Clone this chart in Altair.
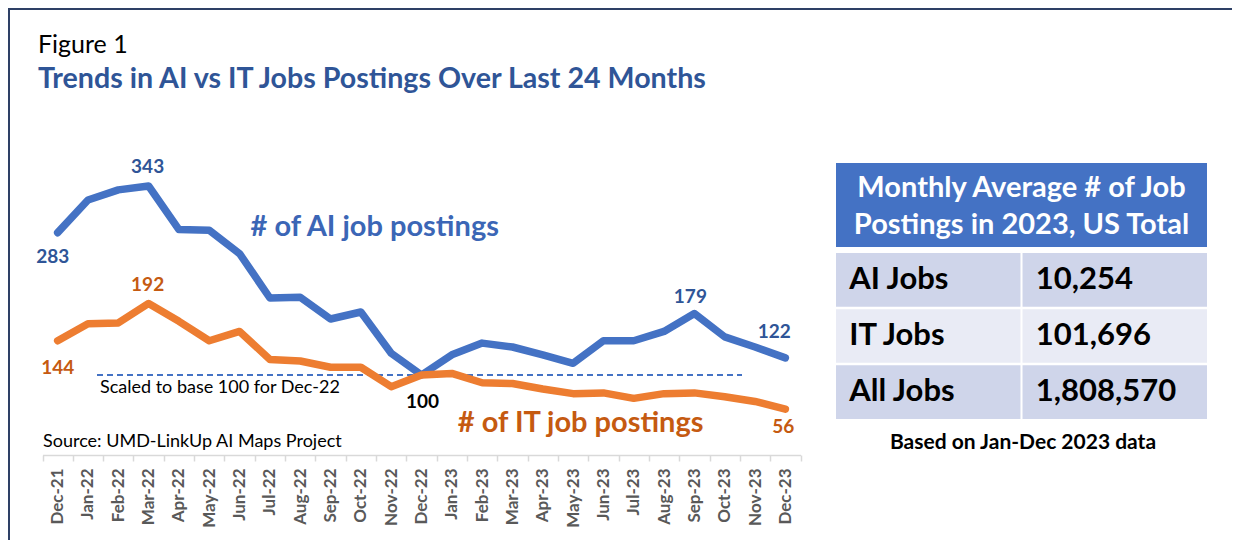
import altair as alt
import pandas as pd

# ---------------- data ----------------
months = ["Dec-21", "Jan-22", "Feb-22", "Mar-22", "Apr-22", "May-22", "Jun-22",
          "Jul-22", "Aug-22", "Sep-22", "Oct-22", "Nov-22", "Dec-22", "Jan-23",
          "Feb-23", "Mar-23", "Apr-23", "May-23", "Jun-23", "Jul-23", "Aug-23",
          "Sep-23", "Oct-23", "Nov-23", "Dec-23"]
ai_index = [283, 325, 338, 343, 287, 286, 256, 199, 200, 172, 181, 128, 100,
            126, 141, 136, 126, 115, 144, 144, 156, 179, 149, 136, 122]
it_index = [144, 166, 167, 192, 169, 144, 156, 120, 118, 110, 110, 85, 100,
            102, 90, 89, 82, 76, 77, 70, 76, 77, 72, 66, 56]
series_keys = ["AI", "IT"]
series_names = ["# of AI job postings", "# of IT job postings"]

table_header = ["Monthly Average # of Job", "Postings in  2023, US Total"]
table_rows = ["AI Jobs", "IT Jobs", "All Jobs"]
table_values = [10254, 101696, 1808570]

title_text = "Figure 1"
subtitle_text = "Trends in AI vs IT Jobs Postings Over Last 24 Months"
source_text = "Source: UMD-LinkUp AI Maps Project"
baseline_note = "Scaled to base 100 for Dec-22"
table_note = "Based on Jan-Dec 2023 data"

# ---------------- style ----------------
FONT = "Lato"
BLUE = "#4472c4"
BLUE_T = "#2f5597"
BLUE_A = "#3b66b6"
ORANGE = "#ed7d31"
ORANGE_T = "#c55a11"
FRAME = "#2e4066"
W, H = 1224, 447

df = pd.DataFrame({
    "month": months * 2,
    "value": ai_index + it_index,
    "series": [series_keys[0]] * len(months) + [series_keys[1]] * len(months),
})

x_scale = alt.Scale(domain=months, range=[34.5, 792.5], paddingInner=0, paddingOuter=0)
y_scale = alt.Scale(domain=[-2.86, 571.86], nice=False, zero=False)
x_axis = alt.Axis(title=None, labelAngle=270, labelFont=FONT, labelFontWeight="bold",
                  labelFontSize=17, labelColor="#595959", labelPadding=7,
                  tickSize=6, tickColor="#d9d9d9", tickWidth=1.5,
                  domainColor="#d9d9d9", domainWidth=1.5, tickBand="extent",
                  grid=False, labelOverlap=False)

X = alt.X("month:N", scale=x_scale, sort=months, axis=x_axis)
Y = alt.Y("value:Q", scale=y_scale, axis=None)

lines = alt.Chart(df).mark_line(strokeWidth=7.5, strokeJoin="round", strokeCap="round").encode(
    x=X, y=Y,
    color=alt.Color("series:N", scale=alt.Scale(domain=series_keys, range=[BLUE, ORANGE]),
                    legend=None),
)

dashed = alt.Chart(df).mark_rule(strokeDash=[6, 4], strokeWidth=2, color=BLUE).encode(
    x=alt.value(89), x2=alt.value(734),
    y=alt.Y(datum=100, type="quantitative", scale=y_scale, axis=None),
).transform_filter(alt.datum.month == "Dec-22").transform_filter(alt.datum.series == "IT")

note = alt.Chart(df).mark_text(text=baseline_note, align="left", baseline="middle", dy=13,
                               font=FONT, fontSize=18, color="black").encode(
    x=alt.value(92),
    y=alt.Y(datum=100, type="quantitative", scale=y_scale, axis=None),
).transform_filter(alt.datum.month == "Dec-22").transform_filter(alt.datum.series == "IT")

# value labels (series, month, colour, dx, dy)
label_specs = [
    ("AI", "Dec-21", BLUE_T, -5, 24),
    ("AI", "Mar-22", BLUE_T, -1, -19),
    ("AI", "Sep-23", BLUE_T, -4, -17),
    ("AI", "Dec-23", BLUE_T, -11, -26),
    ("IT", "Dec-21", ORANGE_T, 0, 27),
    ("IT", "Mar-22", ORANGE_T, -1, -18),
    ("IT", "Dec-23", ORANGE_T, -2, 18),
    ("IT", "Dec-22", "black", 1, 27),
]
label_layers = []
for s, m, c, dx, dy in label_specs:
    label_layers.append(
        alt.Chart(df).mark_text(font=FONT, fontSize=19, fontWeight="bold", color=c,
                                dx=dx, dy=dy, baseline="middle", align="center").encode(
            x=X, y=Y, text=alt.Text("value:Q", format="d"),
        ).transform_filter((alt.datum.series == s) & (alt.datum.month == m))
    )

ann_ai = alt.Chart(df).mark_text(text=series_names[0], align="left", baseline="middle", dx=11,
                                 font=FONT, fontSize=29, fontWeight="bold", color=BLUE_A).encode(
    x=alt.X(datum="Jun-22", type="nominal", scale=x_scale, axis=x_axis),
    y=alt.Y(datum=290, type="quantitative", scale=y_scale, axis=None),
).transform_filter(alt.datum.month == "Dec-22").transform_filter(alt.datum.series == "AI")

ann_it = alt.Chart(df).mark_text(text=series_names[1], align="left", baseline="middle", dx=6,
                                 font=FONT, fontSize=29, fontWeight="bold", color=ORANGE_T).encode(
    x=alt.X(datum="Jan-23", type="nominal", scale=x_scale, axis=x_axis),
    y=alt.Y(datum=38.3, type="quantitative", scale=y_scale, axis=None),
).transform_filter(alt.datum.month == "Dec-22").transform_filter(alt.datum.series == "IT")

one = alt.Chart(df).transform_filter(alt.datum.month == "Dec-22").transform_filter(
    alt.datum.series == "AI")

source = one.mark_text(text=source_text, align="left", baseline="middle", font=FONT,
                       fontSize=18, color="black").encode(x=alt.value(35), y=alt.value(434))
title = one.mark_text(text=title_text, align="left", baseline="alphabetic", font=FONT,
                      fontSize=25, color="black").encode(x=alt.value(30), y=alt.value(45))
subtitle = one.mark_text(text=subtitle_text, align="left", baseline="alphabetic", font=FONT,
                         fontSize=28.6, fontWeight="bold", color=BLUE_T).encode(
    x=alt.value(30), y=alt.value(80))
frame_top = one.mark_rule(color=FRAME, strokeWidth=2).encode(
    x=alt.value(0), x2=alt.value(1224), y=alt.value(1))
frame_left = one.mark_rule(color=FRAME, strokeWidth=2).encode(
    x=alt.value(1), y=alt.value(0), y2=alt.value(532))

line_group = alt.layer(frame_top, frame_left, title, subtitle, dashed, lines, note,
                       *label_layers, ann_ai, ann_it, source)

# ---------------- table ----------------
tdf = pd.DataFrame({
    "row": table_rows * 2,
    "col": ["label"] * len(table_rows) + ["value"] * len(table_rows),
    "text": table_rows + [f"{v:,}" for v in table_values],
})
tx_scale = alt.Scale(domain=["label", "value"], range=[828, 1199], paddingInner=0.011,
                     paddingOuter=0)
ty_scale = alt.Scale(domain=table_rows, range=[245, 411], paddingInner=0.044, paddingOuter=0)
TX = alt.X("col:N", scale=tx_scale, axis=None)
TY = alt.Y("row:N", scale=ty_scale, axis=None, sort=table_rows)

cells = alt.Chart(tdf).mark_rect().encode(
    x=TX, y=TY,
    fill=alt.Fill("row:N", scale=alt.Scale(domain=table_rows,
                                           range=["#cfd5ea", "#e9ebf5", "#cfd5ea"]),
                  legend=None),
)
cell_text = alt.Chart(tdf).mark_text(align="left", baseline="middle", dx=-79, font=FONT,
                                     fontSize=31, fontWeight="bold", color="black").encode(
    x=TX, y=TY, text="text:N")

tone = alt.Chart(tdf).transform_filter(alt.datum.row == "AI Jobs").transform_filter(
    alt.datum.col == "label")
header_box = tone.mark_rect(color=BLUE).encode(
    x=alt.value(828), x2=alt.value(1199), y=alt.value(155), y2=alt.value(239))
header_text = tone.mark_text(align="center", baseline="middle", font=FONT, fontSize=29,
                             fontWeight="bold", color="white", lineHeight=37).encode(
    x=alt.value(1013.5), y=alt.value(180), text=alt.value(table_header))
tnote = tone.mark_text(text=table_note, align="center", baseline="middle", font=FONT,
                       fontSize=21, fontWeight="bold", color="black").encode(
    x=alt.value(1015), y=alt.value(435))

table_group = alt.layer(cells, header_box, header_text, cell_text, tnote)

chart = alt.layer(line_group, table_group).resolve_scale(
    x="independent", y="independent", color="independent", fill="independent"
).properties(
    width=W, height=H, background="white",
    autosize=alt.AutoSizeParams(type="none"),
    padding={"left": 0, "top": 0, "right": 0, "bottom": 85},
).configure_view(stroke=None)

chart.save("out.html", embed_options={"renderer": "svg", "actions": False})
